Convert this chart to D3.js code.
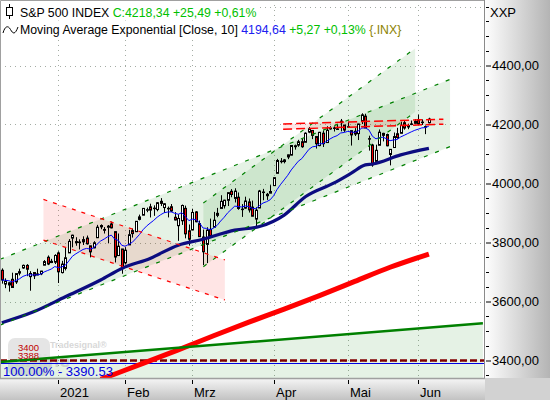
<!DOCTYPE html>
<html>
<head>
<meta charset="utf-8">
<script src="https://cdn.jsdelivr.net/npm/d3@7"></script>
<style>
body { margin: 0; background: #fff; }
svg { display: block; font-family: "Liberation Sans", Arial, sans-serif; }
</style>
</head>
<body>
<div id="chart"></div>
<script>
const W = 550, H = 400;
const PLOT_W = 484, PLOT_H = 378;

// daily bars, 9 Dec 2020 .. 4 Jun 2021
const opens = [3705.98,3659.13,3656.08,3675.27,3666.41,3696.25,3713.65,3722.39,3684.28,3698.08,3693.42,3694.03,3723.03,3750.01,3736.19,3733.27,
 3764.61,3698.02,3712.20,3764.71,3815.05,3803.14,3801.62,3802.23,3814.98,3788.73,3781.88,3816.22,3857.46,3844.24,3851.68,3862.96,3836.83,3755.75,3778.05,
 3731.17,3791.84,3840.27,3836.66,3878.30,3892.59,3910.49,3920.78,3916.40,3911.65,3939.61,3918.50,3915.86,3921.16,3885.55,3857.07,3873.71,3915.80,3839.66,
 3842.51,3903.64,3863.99,3818.53,3793.58,3844.39,3851.93,3891.99,3915.54,3924.52,3942.96,3973.59,3949.57,3953.50,3913.14,3916.48,3937.60,3919.93,3879.34,3917.12,3969.31,3963.34,3967.25,
 3992.78,4034.44,4075.57,4074.29,4089.95,4096.11,4124.71,4130.10,4141.58,4139.76,4174.14,4179.80,4159.18,4128.42,4170.46,4138.78,4185.03,4188.25,4185.14,4206.14,4198.10,
 4191.98,4179.04,4177.06,4169.14,4210.34,4228.29,4150.34,4130.55,4074.99,4129.58,4169.92,4165.94,4098.45,4121.97,4168.61,4170.16,4205.94,4191.59,4201.94,4210.77,
 4216.52,4206.82,4191.43,4206.05];
const highs = [3712.39,3678.49,3665.91,3697.61,3695.29,3711.27,3725.12,3726.70,3702.90,3698.26,3711.24,3703.82,3740.51,3756.12,3744.63,3760.20,
 3769.99,3737.83,3783.04,3811.55,3826.69,3817.86,3810.78,3820.96,3823.60,3788.73,3804.53,3859.75,3861.45,3852.31,3859.23,3870.90,3836.83,3830.50,3778.05,
 3784.32,3843.09,3847.51,3872.42,3894.56,3915.77,3918.35,3931.50,3925.99,3937.23,3950.43,3933.61,3921.98,3930.41,3902.92,3895.98,3928.65,3925.02,3861.08,
 3914.50,3906.41,3874.47,3843.67,3851.69,3881.06,3903.76,3917.35,3960.27,3944.99,3970.08,3981.04,3983.87,3969.62,3930.12,3955.31,3949.13,3942.08,3919.54,3978.19,3981.83,3968.01,3994.41,
 4020.63,4083.42,4086.23,4083.13,4098.19,4129.48,4131.76,4148.00,4151.69,4173.49,4191.31,4180.81,4159.18,4175.02,4179.57,4194.17,4194.19,4193.35,4201.53,4218.78,4198.10,
 4209.39,4179.04,4187.72,4202.70,4238.04,4236.39,4162.04,4134.73,4131.58,4183.13,4171.92,4169.15,4116.93,4172.80,4188.72,4209.52,4213.42,4202.61,4213.38,4218.36,
 4234.12,4217.37,4196.74,4222.94];
const lows = [3660.54,3645.18,3633.40,3645.84,3659.62,3688.57,3710.87,3685.84,3636.48,3676.16,3689.28,3689.32,3723.03,3723.31,3730.21,3726.88,
 3662.71,3695.07,3705.34,3764.71,3783.60,3789.02,3776.51,3791.50,3792.86,3749.62,3780.37,3816.22,3845.05,3830.41,3797.16,3847.78,3732.48,3755.75,3694.12,
 3725.62,3791.84,3816.68,3836.66,3874.93,3892.59,3902.64,3884.94,3890.39,3905.78,3923.85,3900.43,3885.03,3903.07,3874.71,3805.59,3859.60,3814.04,3789.54,
 3842.51,3868.57,3818.86,3723.34,3730.19,3819.25,3851.93,3885.73,3915.54,3915.21,3923.54,3953.44,3935.74,3910.86,3886.75,3914.16,3901.57,3889.07,3853.50,3917.12,3943.25,3944.35,3966.98,
 3992.78,4034.44,4068.14,4068.31,4082.54,4095.51,4114.82,4124.43,4120.87,4139.76,4170.75,4150.47,4118.38,4126.35,4123.69,4138.78,4182.36,4176.22,4181.78,4176.81,4174.85,
 4188.03,4128.59,4160.94,4147.33,4201.64,4188.13,4111.53,4056.88,4074.99,4129.58,4142.69,4125.99,4061.41,4121.97,4151.72,4170.16,4182.52,4184.11,4197.78,4203.57,
 4197.59,4198.27,4167.34,4203.81];
const closes = [3672.82,3668.10,3663.46,3647.49,3694.62,3701.17,3722.48,3709.41,3694.92,3687.26,3690.01,3703.06,3735.36,3727.04,3732.04,3756.07,
 3700.65,3726.86,3748.14,3803.79,3824.68,3799.61,3801.19,3809.84,3795.54,3768.25,3798.91,3851.85,3853.07,3841.47,3855.36,3849.62,3750.77,3787.38,3714.24,
 3773.86,3826.31,3830.17,3871.74,3886.83,3915.59,3911.23,3909.88,3916.38,3934.83,3932.59,3931.33,3913.97,3906.71,3876.50,3881.37,3925.43,3829.34,3811.15,
 3901.82,3870.29,3819.72,3768.47,3841.94,3821.35,3875.44,3898.81,3939.34,3943.34,3968.94,3962.71,3974.12,3915.46,3913.10,3940.59,3910.52,3889.14,3909.52,3974.54,3971.09,3958.55,3972.89,
 4019.87,4077.91,4073.94,4079.95,4097.17,4128.80,4127.99,4141.59,4124.66,4170.42,4185.47,4163.26,4134.94,4173.42,4134.98,4180.17,4187.62,4186.72,4183.18,4211.47,4181.17,
 4192.66,4164.66,4167.59,4201.62,4232.60,4188.43,4152.10,4063.04,4112.50,4173.85,4163.29,4127.83,4115.68,4159.12,4155.86,4197.05,4188.13,4195.99,4200.88,4204.11,
 4202.04,4208.12,4192.85,4218.34];

// month ticks (bar index of first trading day)
const monthLabels = ["2021", "Feb", "Mrz", "Apr", "Mai", "Jun"];
const monthBars = [16, 35, 54, 77, 98, 118];

const priceTicks = [3400, 3600, 3800, 4000, 4200, 4400];

// slow moving average (dark blue)
const slowBars = [0, 9, 18, 28, 34, 42, 50, 57, 66, 73, 80, 86, 94, 99, 103, 105, 113, 121];
const slowValues = [3528, 3565, 3616, 3673, 3712, 3746, 3791, 3811, 3842, 3854, 3893, 3955, 4001, 4035, 4063, 4066, 4097, 4119];

// 200 day average (red)
const redBars = [28, 30, 40, 50, 60, 70, 80, 90, 100, 110, 121];
const redValues = [3336, 3345, 3390, 3436, 3484, 3530, 3574, 3620, 3668, 3716, 3761];

// drawn channels: [start bar, end bar], upper and lower prices
const chanABars = [-0.5, 127], chanAUpper = [3743, 4353], chanALower = [3520, 4125];
const chanBBars = [57.1, 117.1], chanBUpper = [3934, 4458], chanBLower = [3718, 4242];
const pinkBars = [11.8, 63.2], pinkUpper = [3946, 3741], pinkLower = [3808, 3605];
const bandBars = [79.7, 125.1], bandUpper = [4202, 4218], bandLower = [4184, 4201];
const trendBars = [-0.5, 136.3], trendValues = [3395, 3526];

const hLineDashed = 3400;
const hLineBlue = 3390.53;

const emaPeriod = 10;

const x = d3.scaleLinear().domain([0, 121]).range([1.8, 428.9]);
const y = d3.scaleLinear().domain([3400, 4400]).range([360.5, 65.5]);

const svg = d3.select("#chart").append("svg").attr("width", W).attr("height", H);
const defs = svg.append("defs");

const gr = defs.append("linearGradient").attr("id", "gradRight")
	.attr("x1", 0).attr("x2", 1).attr("y1", 0).attr("y2", 0);
gr.append("stop").attr("offset", 0).attr("stop-color", "#ffffff");
gr.append("stop").attr("offset", 1).attr("stop-color", "#b4b4b4");
const gb = defs.append("linearGradient").attr("id", "gradBottom")
	.attr("x1", 0).attr("x2", 0).attr("y1", 0).attr("y2", 1);
gb.append("stop").attr("offset", 0).attr("stop-color", "#f6f6f6");
gb.append("stop").attr("offset", 1).attr("stop-color", "#c2c2c2");
defs.append("clipPath").attr("id", "plotClip")
	.append("rect").attr("width", PLOT_W).attr("height", PLOT_H);

svg.append("rect").attr("width", W).attr("height", H).attr("fill", "#fff");
svg.append("rect").attr("x", PLOT_W).attr("y", 0).attr("width", W - PLOT_W).attr("height", PLOT_H).attr("fill", "url(#gradRight)");
svg.append("rect").attr("x", 0).attr("y", PLOT_H).attr("width", PLOT_W + 1).attr("height", H - PLOT_H).attr("fill", "url(#gradBottom)");
svg.append("rect").attr("x", PLOT_W + 1).attr("y", PLOT_H).attr("width", W - PLOT_W).attr("height", H - PLOT_H).attr("fill", "#d2d2d2");

const plot = svg.append("g").attr("clip-path", "url(#plotClip)");

// watermark
const wm = plot.append("g").attr("opacity", 0.55);
wm.append("rect").attr("x", 8).attr("y", 338).attr("width", 42).attr("height", 38).attr("rx", 7).attr("fill", "#d0d0d0");
wm.append("text").attr("x", 50).attr("y", 348).attr("font-size", 9).attr("font-weight", "bold").attr("fill", "#b8b8b8").text("Tradesignal\u00ae");
wm.append("text").attr("x", 14).attr("y", 367).attr("font-size", 19).attr("font-weight", "bold").attr("fill", "#c8c8c8").text("online");

// grid
plot.selectAll(".hgrid").data(d3.range(3400, 4601, 200)).join("line")
	.attr("x1", 0).attr("x2", PLOT_W)
	.attr("y1", d => Math.round(y(d)) + 0.5).attr("y2", d => Math.round(y(d)) + 0.5)
	.attr("stroke", "#a4aca4").attr("stroke-dasharray", "1,4");
plot.selectAll(".vgrid").data(monthBars).join("line")
	.attr("x1", d => Math.round(x(d)) + 0.5).attr("x2", d => Math.round(x(d)) + 0.5)
	.attr("y1", 0).attr("y2", PLOT_H)
	.attr("stroke", "#a4aca4").attr("stroke-dasharray", "1,4");

// filled channels
function quad(bars, up, lo) {
	return `M${x(bars[0])},${y(up[0])}L${x(bars[1])},${y(up[1])}L${x(bars[1])},${y(lo[1])}L${x(bars[0])},${y(lo[0])}Z`;
}
plot.append("path").attr("d", `M${x(trendBars[0])},${y(trendValues[0])}L${x(trendBars[1])},${y(trendValues[1])}L${x(trendBars[1])},${PLOT_H}L${x(trendBars[0])},${PLOT_H}Z`)
	.attr("fill", "rgba(0,128,0,0.1)");
plot.append("path").attr("d", quad(chanABars, chanAUpper, chanALower)).attr("fill", "rgba(0,128,0,0.1)");
plot.append("path").attr("d", quad(chanBBars, chanBUpper, chanBLower)).attr("fill", "rgba(0,128,0,0.1)");
plot.append("path").attr("d", quad(pinkBars, pinkUpper, pinkLower)).attr("fill", "rgba(255,0,0,0.1)");
plot.append("path").attr("d", quad(bandBars, bandUpper, bandLower)).attr("fill", "rgba(255,0,0,0.1)");

// horizontal lines
plot.append("line").attr("x1", 0).attr("x2", PLOT_W)
	.attr("y1", Math.round(y(hLineBlue)) + 0.5).attr("y2", Math.round(y(hLineBlue)) + 0.5)
	.attr("stroke", "#0000e0").attr("stroke-width", 1);
plot.append("line").attr("x1", 0).attr("x2", PLOT_W)
	.attr("y1", y(hLineDashed)).attr("y2", y(hLineDashed))
	.attr("stroke", "#800000").attr("stroke-width", 2.5).attr("stroke-dasharray", "7,3");

// candles
const bars = closes.map((c, i) => ({ i, o: opens[i], h: highs[i], l: lows[i], c }));
const cg = plot.append("g");
bars.forEach(d => {
	const cx = Math.round(x(d.i));
	cg.append("line").attr("x1", cx + 0.5).attr("x2", cx + 0.5)
		.attr("y1", y(d.h)).attr("y2", y(d.l)).attr("stroke", "#000");
	const top = y(Math.max(d.o, d.c)), bot = y(Math.min(d.o, d.c));
	cg.append("rect").attr("x", cx - 0.5).attr("width", 2)
		.attr("y", top).attr("height", Math.max(0.5, bot - top))
		.attr("fill", d.c >= d.o ? "#fff" : "#ee0000")
		.attr("stroke", "#000").attr("stroke-width", 1);
});

// averages
const ema = [];
closes.forEach((c, i) => {
	ema.push(i === 0 ? c : ema[i - 1] + (2 / (emaPeriod + 1)) * (c - ema[i - 1]));
});
const line = d3.line().x(d => x(d[0])).y(d => y(d[1]));
plot.append("path").attr("d", line.curve(d3.curveMonotoneX)(redBars.map((b, i) => [b, redValues[i]])))
	.attr("fill", "none").attr("stroke", "#ff0000").attr("stroke-width", 5);
plot.append("path").attr("d", line.curve(d3.curveMonotoneX)(slowBars.map((b, i) => [b, slowValues[i]])))
	.attr("fill", "none").attr("stroke", "#0c0c80").attr("stroke-width", 3.2);
plot.append("path").attr("d", line.curve(d3.curveLinear)(ema.map((v, i) => [i, v])))
	.attr("fill", "none").attr("stroke", "#0000ff").attr("stroke-width", 1);

// channel lines
function seg(bars, vals, color, dash, w) {
	plot.append("line")
		.attr("x1", x(bars[0])).attr("y1", y(vals[0]))
		.attr("x2", x(bars[1])).attr("y2", y(vals[1]))
		.attr("stroke", color).attr("stroke-width", w).attr("stroke-dasharray", dash);
}
seg(trendBars, trendValues, "#008000", null, 2.5);
[chanAUpper, chanALower].forEach(v => seg(chanABars, v, "#008000", "4,8", 1.2));
[chanBUpper, chanBLower].forEach(v => seg(chanBBars, v, "#008000", "4,8", 1.2));
[pinkUpper, pinkLower].forEach(v => seg(pinkBars, v, "#ff0000", "4,6", 1.2));
[bandUpper, bandLower].forEach(v => seg(bandBars, v, "#ff0000", "9,4", 1.5));

// labels inside plot
plot.append("text").attr("x", 18).attr("y", 351).attr("font-size", 9.5).attr("fill", "#c00000").text("3400");
plot.append("text").attr("x", 18).attr("y", 359).attr("font-size", 9.5).attr("fill", "#c00000").text("3388");
plot.append("text").attr("x", 3).attr("y", 376).attr("font-size", 13).attr("fill", "#0000e0").text("100.00% - 3390.53");

// legend
const lg = svg.append("g").attr("font-size", 12.3);
const l1 = lg.append("text").attr("x", 20).attr("y", 16.5);
l1.append("tspan").attr("fill", "#000").text("S&P 500 INDEX ");
l1.append("tspan").attr("fill", "#00c000").text("C:4218,34 +25,49 +0,61%");
const l2 = lg.append("text").attr("x", 20).attr("y", 34);
l2.append("tspan").attr("fill", "#000").text("Moving Average Exponential [Close, 10] ");
l2.append("tspan").attr("fill", "#2020f0").text("4194,64 ");
l2.append("tspan").attr("fill", "#00c000").text("+5,27 +0,13% ");
l2.append("tspan").attr("fill", "#8c8200").text("{.INX}");
[l1, l2].forEach(t => {
	const b = t.node().getBBox();
	lg.insert("rect", "text").attr("x", 0).attr("y", b.y - 1).attr("width", b.x + b.width + 2).attr("height", b.height + 2).attr("fill", "#fff");
});
lg.append("line").attr("x1", 9.5).attr("x2", 9.5).attr("y1", 4).attr("y2", 19).attr("stroke", "#000");
lg.append("rect").attr("x", 6.5).attr("y", 7.5).attr("width", 6).attr("height", 8).attr("fill", "#fff").attr("stroke", "#000");
lg.append("path").attr("d", "M3,33 C5,26 8,25 10.5,29.5 S15,35 18,27").attr("fill", "none").attr("stroke", "#000");

// right axis
const fmt = d3.formatLocale({ decimal: ",", thousands: ".", grouping: [3], currency: ["", ""] }).format(".2f");
svg.append("line").attr("x1", PLOT_W + 0.5).attr("x2", PLOT_W + 0.5).attr("y1", 0).attr("y2", PLOT_H)
	.attr("stroke", "#8a8a8a");
const yAxis = d3.axisRight(y).tickValues(priceTicks).tickSize(5).tickPadding(1).tickFormat(fmt);
const ya = svg.append("g").attr("transform", `translate(${PLOT_W + 2},0)`).call(yAxis);
ya.select(".domain").remove();
ya.selectAll("text").attr("font-size", 13).attr("fill", "#000").attr("font-family", "Liberation Sans, Arial, sans-serif");
ya.selectAll("line").attr("stroke", "#000");
svg.selectAll(".minor").data(d3.range(3350, 4601, 50).filter(v => v % 200 !== 0 || v > 4400)).join("line")
	.attr("x1", PLOT_W + 2).attr("x2", PLOT_W + 5)
	.attr("y1", d => Math.round(y(d)) + 0.5).attr("y2", d => Math.round(y(d)) + 0.5)
	.attr("stroke", "#000");
svg.append("text").attr("x", 490).attr("y", 17).attr("font-size", 13).attr("fill", "#000").text("XXP");

// bottom axis
svg.append("line").attr("x1", 0).attr("x2", PLOT_W + 1).attr("y1", PLOT_H + 0.5).attr("y2", PLOT_H + 0.5).attr("stroke", "#a0a0a0").attr("stroke-width", 1.5);
const xa = svg.append("g");
monthBars.forEach((b, i) => {
	const px = Math.round(x(b)) + 0.5;
	xa.append("line").attr("x1", px).attr("x2", px).attr("y1", PLOT_H + 2).attr("y2", PLOT_H + 6).attr("stroke", "#000");
	xa.append("text").attr("x", px + 1.5).attr("y", 397).attr("font-size", 13).attr("fill", "#000").text(monthLabels[i]);
});

// frame
svg.append("path").attr("d", `M0.5,${PLOT_H}V0.5H${PLOT_W}`).attr("fill", "none").attr("stroke", "#a0a0a0");
</script>
</body>
</html>
